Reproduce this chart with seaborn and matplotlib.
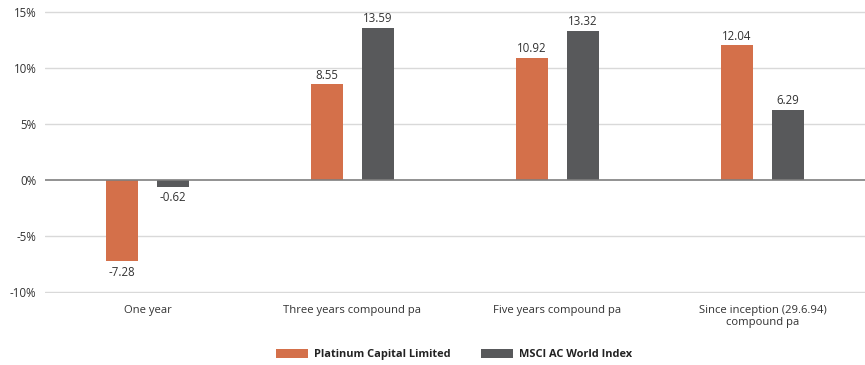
import matplotlib
matplotlib.use("Agg")
import matplotlib.pyplot as plt
import seaborn as sns
import pandas as pd

categories = ["One year", "Three years compound pa", "Five years compound pa",
              "Since inception (29.6.94)\ncompound pa"]
series_names = ["Platinum Capital Limited", "MSCI AC World Index"]
platinum = [-7.28, 8.55, 10.92, 12.04]
msci = [-0.62, 13.59, 13.32, 6.29]
yticks = [-10, -5, 0, 5, 10, 15]
colors = ["#D4704A", "#58595B"]

df = pd.DataFrame({
    "category": categories * 2,
    "series": [series_names[0]] * 4 + [series_names[1]] * 4,
    "value": platinum + msci,
})

sns.set_theme(style="white")
plt.rcParams['font.family'] = ['Open Sans', 'DejaVu Sans']

fig = plt.figure(figsize=(8.65, 3.65), dpi=100)
ax = fig.add_axes([0.052, 0.196, 0.948, 0.775])

sns.barplot(data=df, x="category", y="value", hue="series", order=categories,
            hue_order=series_names, palette=colors, width=0.497, gap=0.37,
            ax=ax, legend=True, saturation=1, linewidth=0)

ax.set_ylim(-10.15, 15.15)
ax.set_xlim(-0.5, 3.5)
ax.set_yticks(yticks)
ax.set_yticklabels([f"{t}%" for t in yticks], fontsize=8.3, color="#333333")
ax.tick_params(axis="x", labelsize=8.1, colors="#333333", length=0, pad=8)
ax.tick_params(axis="y", length=0, pad=6)
ax.set_xlabel("")
ax.set_ylabel("")
for s in ax.spines.values():
    s.set_visible(False)
for t in yticks:
    if t == 0:
        continue
    ax.axhline(t, color="#D9D9D9", lw=1, zorder=0)
ax.axhline(0, color="#7F7F7F", lw=1.2, zorder=3)

for cont in ax.containers:
    for bar in cont:
        h = bar.get_height()
        x = bar.get_x() + bar.get_width() / 2
        if h >= 0:
            ax.annotate(f"{h:.2f}", (x, h), xytext=(0, 2), textcoords="offset points",
                        ha="center", va="bottom", fontsize=8.3, color="#333333")
        else:
            ax.annotate(f"{h:.2f}", (x, h), xytext=(0, -3), textcoords="offset points",
                        ha="center", va="top", fontsize=8.3, color="#333333")

handles, labels = ax.get_legend_handles_labels()
ax.legend_.remove()
leg = fig.legend(handles, labels, loc="center", bbox_to_anchor=(0.525, 0.028),
                 ncol=2, frameon=False, handlelength=2.9, handleheight=0.9,
                 handletextpad=0.6, columnspacing=2.7,
                 prop={"size": 7.9, "weight": "bold"})
for t in leg.get_texts():
    t.set_color("#222222")

fig.savefig("out.png", dpi=100)
